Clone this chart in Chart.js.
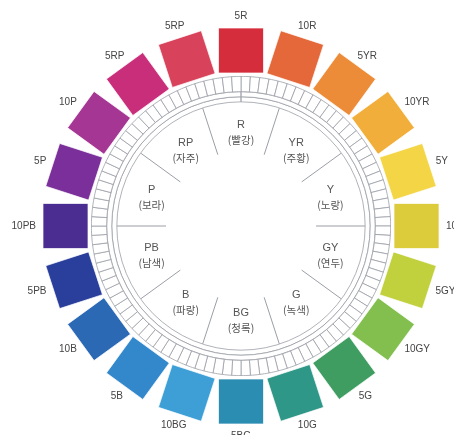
<!DOCTYPE html>
<html>
<head>
<meta charset="utf-8">
<script src="https://cdn.jsdelivr.net/npm/chart.js@4.4.0/dist/chart.umd.min.js"></script>
<style>
    body { margin: 0; background: #fff; }
    #wrap { position: relative; width: 454px; height: 435px; overflow: hidden; }
    #wheel { position: absolute; left: 0; top: 0; }
    #ring { position: absolute; left: 91px; top: 76px; }
</style>
</head>
<body>
<div id="wrap">
    <canvas id="wheel" width="454" height="435"></canvas>
    <canvas id="ring" width="300" height="300"></canvas>
</div>
<script>
// Munsell hue chips, clockwise from the top
const CHIP_LABELS = ['5R', '10R', '5YR', '10YR', '5Y', '10Y', '5GY', '10GY', '5G', '10G',
                     '5BG', '10BG', '5B', '10B', '5PB', '10PB', '5P', '10P', '5RP', '5RP'];
const CHIP_COLORS = ['#d62d3c', '#e5683a', '#ec8b38', '#f1ae3a', '#f3d545', '#dccb3b', '#c1d03d', '#82bf4f',
                     '#3f9d61', '#2e9787', '#2a8db1', '#3d9fd6', '#3387cb', '#2b69b5', '#293f9b', '#4b2c90',
                     '#7b2f9a', '#a53693', '#c92e7b', '#d8435b'];
// 10 principal hues (inner sectors)
const HUE_CODES = ['R', 'YR', 'Y', 'GY', 'G', 'BG', 'B', 'PB', 'P', 'RP'];
const HUE_NAMES = ['(빨강)', '(주황)', '(노랑)', '(연두)', '(녹색)', '(청록)', '(파랑)', '(남색)', '(보라)', '(자주)'];
const CELL_COUNT = 100;

// geometry (pixels from centre)
const CHIP_R = 175.5, CHIP_SIDE = 45, CHIP_TEXT_R = 202;
const HUE_TEXT_R = 94, DIV_IN = 75, DIV_OUT = 124, CELL_DOT_R = 141;
const LINE_GRAY = '#9a9ea6';

const CHIP_STEP = 360 / CHIP_LABELS.length;
const HUE_STEP = 360 / HUE_CODES.length;

function polar(r, deg) {
    const a = deg * Math.PI / 180;
    return { x: r * Math.sin(a), y: r * Math.cos(a) };
}

const chipPoints = CHIP_LABELS.map((_, i) => polar(CHIP_R, i * CHIP_STEP));
const chipRotation = CHIP_LABELS.map((_, i) => i * CHIP_STEP);

const dividerPoints = [];
HUE_CODES.forEach((_, i) => {
    const deg = i * HUE_STEP + HUE_STEP / 2;
    dividerPoints.push(polar(DIV_IN, deg), polar(DIV_OUT, deg), { x: null, y: null });
});

const cellDots = [];
for (let i = 0; i < CELL_COUNT; i++) cellDots.push(polar(CELL_DOT_R, (i + 0.5) * 360 / CELL_COUNT));

// --- texts drawn on top of the wheel ---
const labelPlugin = {
    id: 'wheelLabels',
    afterDatasetsDraw(chart) {
        const ctx = chart.ctx;
        const sx = chart.scales.x, sy = chart.scales.y;
        ctx.save();
        ctx.textAlign = 'center';
        ctx.textBaseline = 'middle';
        ctx.fillStyle = '#444';

        ctx.font = '10px "Liberation Sans", Arial, sans-serif';
        CHIP_LABELS.forEach((lab, i) => {
            const deg = i * CHIP_STEP;
            const p = polar(CHIP_TEXT_R, deg);
            const ux = Math.sin(deg * Math.PI / 180), uy = -Math.cos(deg * Math.PI / 180);
            const w = ctx.measureText(lab).width;
            const px = sx.getPixelForValue(p.x) + ux * (w / 2 + 3);
            const py = sy.getPixelForValue(p.y) + uy * 8;
            ctx.fillText(lab, px, py);
        });

        ctx.fillStyle = '#555';
        HUE_CODES.forEach((code, i) => {
            const p = polar(HUE_TEXT_R, i * HUE_STEP);
            const px = sx.getPixelForValue(p.x), py = sy.getPixelForValue(p.y);
            ctx.font = '11px "Liberation Sans", Arial, sans-serif';
            ctx.fillText(code, px, py - 7);
            ctx.font = '10.5px "Noto Sans CJK KR", sans-serif';
            ctx.fillText(HUE_NAMES[i], px, py + 8);
        });
        ctx.restore();
    }
};

new Chart(document.getElementById('wheel'), {
    type: 'scatter',
    data: {
        datasets: [{
            label: 'chips',
            data: chipPoints,
            pointStyle: 'rect',
            pointRotation: chipRotation,
            pointRadius: CHIP_SIDE / Math.SQRT2,
            backgroundColor: CHIP_COLORS,
            borderColor: 'rgba(255,255,255,0.7)',
            borderWidth: 1
        }, {
            label: 'dividers',
            data: dividerPoints,
            showLine: true,
            spanGaps: false,
            pointRadius: 0,
            borderColor: LINE_GRAY,
            borderWidth: 1
        }, {
            label: 'cells',
            data: cellDots,
            pointRadius: 0.9,
            backgroundColor: '#8a8f98',
            borderWidth: 0
        }]
    },
    options: {
        responsive: false,
        devicePixelRatio: 1,
        animation: false,
        events: [],
        layout: { padding: 0, autoPadding: false },
        plugins: { legend: { display: false }, tooltip: { enabled: false } },
        scales: {
            x: { type: 'linear', min: -241, max: 213, display: false },
            y: { type: 'linear', min: -209, max: 226, display: false }
        }
    },
    plugins: [labelPlugin]
});

// --- cell ring and the two thin bands around the centre ---
new Chart(document.getElementById('ring'), {
    type: 'doughnut',
    data: {
        datasets: [{
            data: new Array(CELL_COUNT).fill(1),
            weight: 15,
            backgroundColor: '#fff',
            borderColor: LINE_GRAY,
            borderWidth: 0.8
        }, {
            data: [1],
            weight: 5,
            backgroundColor: '#fff',
            borderColor: LINE_GRAY,
            borderWidth: 0.8
        }, {
            data: [1],
            weight: 5,
            backgroundColor: '#fff',
            borderColor: LINE_GRAY,
            borderWidth: 0.8
        }]
    },
    options: {
        responsive: false,
        devicePixelRatio: 1,
        animation: false,
        events: [],
        cutout: '83%',
        layout: { padding: 0 },
        plugins: { legend: { display: false }, tooltip: { enabled: false } }
    }
});
</script>
</body>
</html>
